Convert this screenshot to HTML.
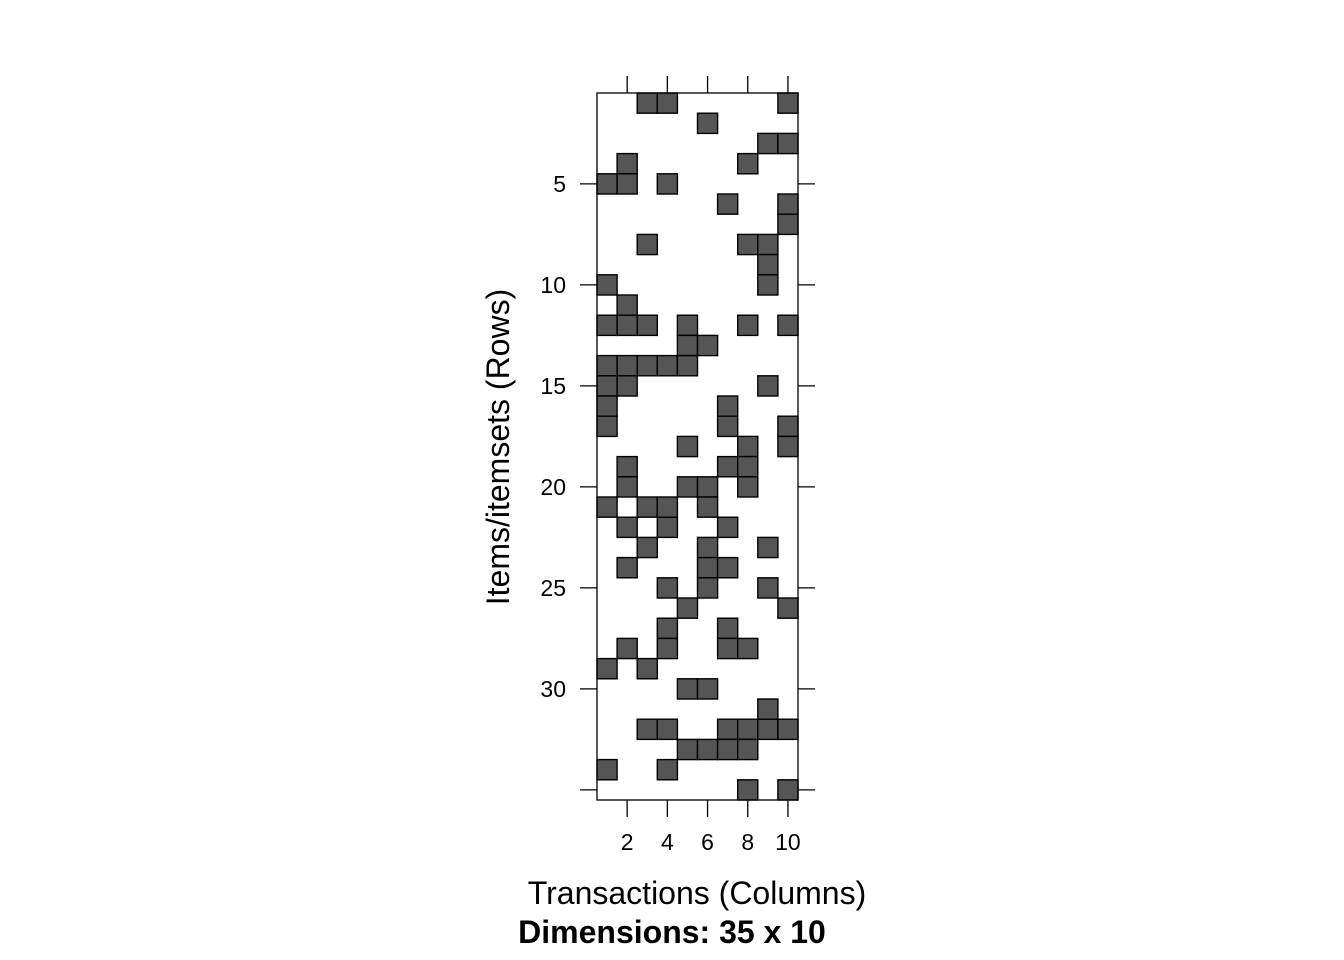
<!DOCTYPE html>
<html><head><meta charset="utf-8"><style>body{margin:0;background:#fff}svg{display:block;font-family:"Liberation Sans",sans-serif}</style></head>
<body>
<svg id="chart" width="1344" height="960">
<g id="cells"></g>
<rect x="597" y="93" width="201" height="707" fill="none" stroke="#000" stroke-width="1.3"/>
<g id="ticks"></g>
<text x="697" y="904" font-size="32" text-anchor="middle">Transactions (Columns)</text>
<text x="672" y="943" font-size="32" font-weight="bold" text-anchor="middle">Dimensions: 35 x 10</text>
<text transform="translate(509,447) rotate(-90)" font-size="32" text-anchor="middle">Items/itemsets (Rows)</text>
</svg>
<script>
const nRows = 35, nCols = 10;
const rowCells = [
[3,4,10],[6],[9,10],[2,8],[1,2,4],[7,10],[10],[3,8,9],[9],[1,9],
[2],[1,2,3,5,8,10],[5,6],[1,2,3,4,5],[1,2,9],[1,7],[1,7,10],[5,8,10],[2,7,8],[2,5,6,8],
[1,3,4,6],[2,4,7],[3,6,9],[2,6,7],[4,6,9],[5,10],[4,7],[2,4,7,8],[1,3],[5,6],
[9],[3,4,7,8,9,10],[5,6,7,8],[1,4],[8,10]];
const xTicks = [2,4,6,8,10];
const yTicks = [5,10,15,20,25,30,35];
const yTickLabels = ["5","10","15","20","25","30",""];
const L=597,T=93,W=201,H=707, cw=W/nCols, ch=H/nRows;
const xs = c => L + (c-0.5)*cw;
const ys = r => T + (r-0.5)*ch;
const NS="http://www.w3.org/2000/svg";
const cg=document.getElementById('cells'), tg=document.getElementById('ticks');
rowCells.forEach((cols,i)=>cols.forEach(c=>{
  const r=document.createElementNS(NS,'rect');
  r.setAttribute('x',xs(c)-cw/2);r.setAttribute('y',ys(i+1)-ch/2);
  r.setAttribute('width',cw);r.setAttribute('height',ch);
  r.setAttribute('fill','#555');r.setAttribute('stroke','#000');r.setAttribute('stroke-width','1.4');
  
  
  cg.appendChild(r);
}));
function line(x1,y1,x2,y2){const l=document.createElementNS(NS,'line');
  l.setAttribute('x1',x1);l.setAttribute('y1',y1);l.setAttribute('x2',x2);l.setAttribute('y2',y2);
  l.setAttribute('stroke','#000');l.setAttribute('stroke-width','1.3');
  
  
  tg.appendChild(l);}
function text(x,y,s,anchor){const t=document.createElementNS(NS,'text');
  t.setAttribute('x',x);t.setAttribute('y',y);t.setAttribute('font-size','23');t.setAttribute('text-anchor',anchor);
  t.textContent=s;
  
  
  tg.appendChild(t);}
xTicks.forEach(v=>{const x=xs(v);line(x,T,x,T-17);line(x,T+H,x,T+H+17);text(x,850,String(v),'middle');});
yTicks.forEach((v,i)=>{const y=ys(v);line(L,y,L-17,y);line(L+W,y,L+W+17,y);if(yTickLabels[i])text(566,y+8,yTickLabels[i],'end');});
</script>
</body></html>
